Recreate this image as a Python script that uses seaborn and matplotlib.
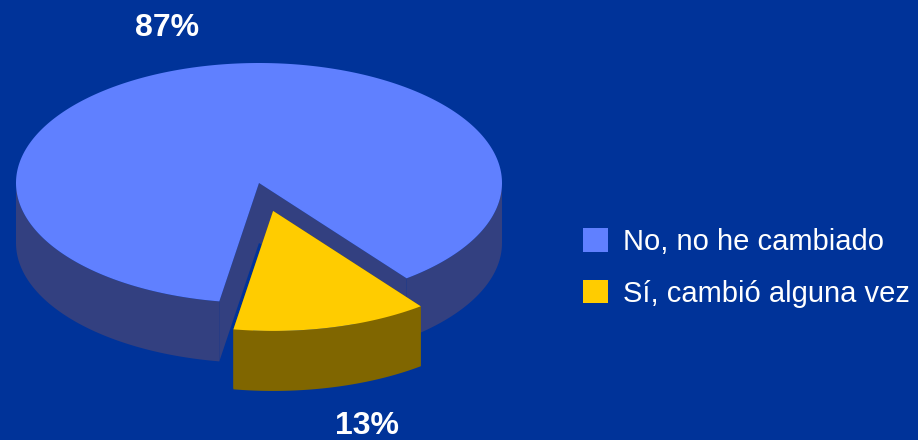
import numpy as np
import matplotlib
matplotlib.use("Agg")
import matplotlib.pyplot as plt
import seaborn as sns
from matplotlib.patches import Polygon, Patch

# ----------------------------
# Data
# ----------------------------
categories = ["No, no he cambiado", "Sí, cambió alguna vez"]
shares = [87, 13]
top_colors = ["#6080FF", "#FFCC00"]
side_colors = ["#334080", "#806600"]
explode = [0.0, 0.24]

# ----------------------------
# Layout (pixel space)
# ----------------------------
bg = "#003399"
cx, cy = 259, 183      # centre of top ellipse
rx, ry = 243, 120      # ellipse radii
depth = 60             # thickness of the pie
start_angle = 99.4     # screen angle (deg, clockwise) where first slice starts
label_pos = [(167, 28), (367, 426)]

sns.set_theme(style="white", rc={"figure.facecolor": bg, "axes.facecolor": bg})
plt.rcParams["font.family"] = ["Liberation Sans", "DejaVu Sans"]

fig = plt.figure(figsize=(9.18, 4.4), dpi=100)
ax = fig.add_axes([0, 0, 1, 1])
ax.set_xlim(0, 918)
ax.set_ylim(440, 0)
ax.axis("off")


def pt(t, ox, oy, dz=0):
    r = np.radians(t)
    return ox + rx * np.cos(r), oy + ry * np.sin(r) + dz


def draw_slice(t0, t1, ex, top_c, side_c):
    mid = np.radians((t0 + t1) / 2)
    ox = cx + ex * rx * np.cos(mid)
    oy = cy + ex * ry * np.sin(mid)

    # radial walls
    for t in (t0, t1):
        ex_, ey_ = pt(t, ox, oy)
        wall = [(ox, oy), (ex_, ey_), (ex_, ey_ + depth), (ox, oy + depth)]
        ax.add_patch(Polygon(wall, closed=True, fc=side_c, ec="none"))

    # curved outer side, only the front half is visible
    for k in range(-1, 3):
        a = max(t0, 360 * k)
        b = min(t1, 360 * k + 180)
        if b <= a:
            continue
        ts = np.linspace(a, b, 120)
        xs, ys = pt(ts, ox, oy)
        poly = np.column_stack([np.r_[xs, xs[::-1]], np.r_[ys, ys[::-1] + depth]])
        ax.add_patch(Polygon(poly, closed=True, fc=side_c, ec="none"))

    # top face
    ts = np.linspace(t0, t1, 400)
    xs, ys = pt(ts, ox, oy)
    poly = np.column_stack([np.r_[ox, xs], np.r_[oy, ys]])
    ax.add_patch(Polygon(poly, closed=True, fc=top_c, ec="none"))


angles = np.cumsum([0] + [s / sum(shares) * 360 for s in shares]) + start_angle
for i in range(len(shares)):
    draw_slice(angles[i], angles[i + 1], explode[i], top_colors[i], side_colors[i])

for s, (x, y) in zip(shares, label_pos):
    ax.text(x, y, f"{s}%", color="white", fontsize=23, fontweight="bold",
            ha="center", va="center")

handles = [Patch(fc=c, ec="none") for c in top_colors]
leg = ax.legend(handles, categories, loc="center left", bbox_to_anchor=(0.635, 0.391),
                frameon=False, fontsize=21, labelcolor="white", borderpad=0,
                borderaxespad=0, handlelength=0.86, handleheight=0.86,
                handletextpad=0.5, labelspacing=0.8)

fig.savefig("out.png", dpi=100, facecolor=bg)
